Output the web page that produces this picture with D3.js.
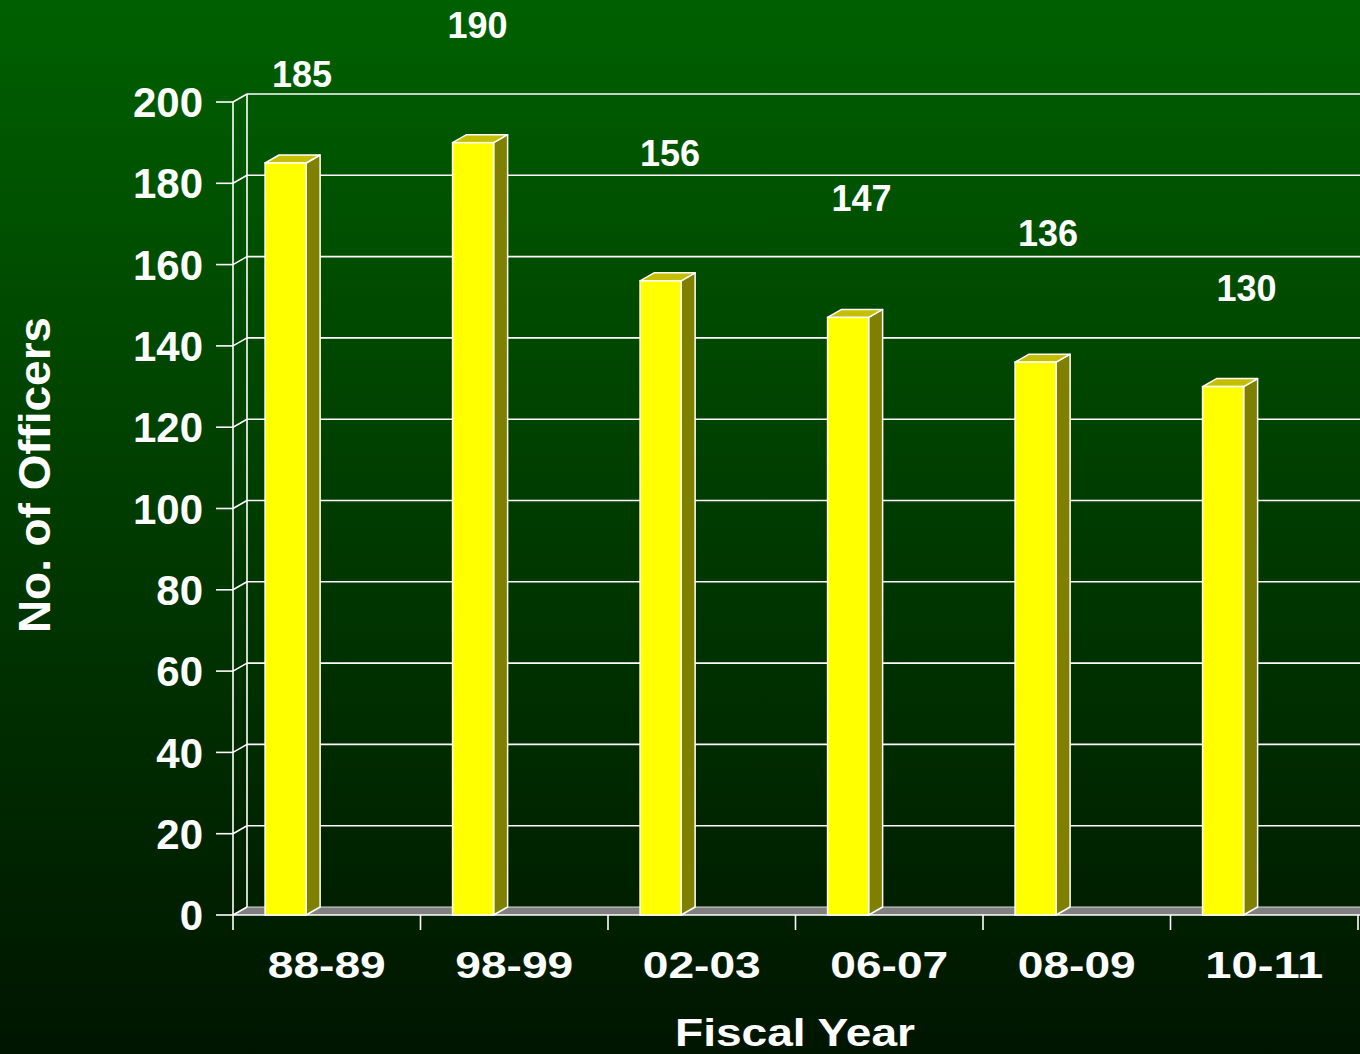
<!DOCTYPE html>
<html><head><meta charset="utf-8">
<script src="https://cdn.jsdelivr.net/npm/d3@7/dist/d3.min.js"></script>
<style>html,body{margin:0;padding:0;overflow:hidden;background:#003000}</style>
</head><body>
<svg id="chart" width="1360" height="1054"></svg>
<script>
const categories = ["88-89","98-99","02-03","06-07","08-09","10-11"];
const officers = [185,190,156,147,136,130];
const yTicks = [0,20,40,60,80,100,120,140,160,180,200];
// value-label anchors as they appear in the picture (value-axis units, fraction of category band)
const labelLevels = [207,219,187.5,176.3,167.8,154.3];
const labelShift = [0.368,0.304,0.331,0.352,0.347,0.405];
const xTitle = "Fiscal Year";
const yTitle = "No. of Officers";

const W = 1360, H = 1054;
const svg = d3.select("#chart");
const defs = svg.append("defs");
const grad = defs.append("linearGradient").attr("id","bg").attr("x1",0).attr("y1",0).attr("x2",0).attr("y2",1);
grad.append("stop").attr("offset","0%").attr("stop-color","#006000");
grad.append("stop").attr("offset","100%").attr("stop-color","#001500");
svg.append("rect").attr("width",W).attr("height",H).attr("fill","url(#bg)");

const x = d3.scaleBand().domain(categories).range([233,1358]).padding(0);
const y = d3.scaleLinear().domain([0,200]).range([915,102]);
const DX = 14, DY = -8;
const xEnd = W + 5;
const font = "'Liberation Sans', Arial, Helvetica, sans-serif";

// floor
const x0 = x.range()[0];
svg.append("path")
  .attr("d",`M${x0},${y(0)} L${x0+DX},${y(0)+DY} L${xEnd},${y(0)+DY} L${xEnd},${y(0)} Z`)
  .attr("fill","#808080").attr("stroke","none");
svg.append("line").attr("x1",x0+DX).attr("x2",xEnd).attr("y1",y(0)+DY).attr("y2",y(0)+DY)
  .attr("stroke","#d8d8d8").attr("stroke-width",1);

// back wall gridlines + side-wall diagonals
const g = svg.append("g").attr("stroke","#ffffff").attr("stroke-width",1.6).attr("fill","none");
yTicks.forEach(t => {
  if (t > 0) g.append("line").attr("x1",x0+DX).attr("x2",xEnd).attr("y1",y(t)+DY).attr("y2",y(t)+DY);
  g.append("line").attr("x1",x0).attr("x2",x0+DX).attr("y1",y(t)).attr("y2",y(t)+DY);
});
g.append("line").attr("x1",x0+DX).attr("x2",x0+DX).attr("y1",y(200)+DY).attr("y2",y(0)+DY);

// front axes
const axG = svg.append("g").attr("stroke","#ffffff").attr("stroke-width",1.6);
axG.append("line").attr("x1",x0).attr("x2",x0).attr("y1",y(200)).attr("y2",y(0)+15);
axG.append("line").attr("x1",x0).attr("x2",xEnd).attr("y1",y(0)).attr("y2",y(0));
yTicks.forEach(t => axG.append("line").attr("x1",x0-17).attr("x2",x0).attr("y1",y(t)).attr("y2",y(t)));
categories.forEach(c => {
  const xx = x(c) + x.bandwidth();
  axG.append("line").attr("x1",xx).attr("x2",xx).attr("y1",y(0)).attr("y2",y(0)+15);
});

// y tick labels
svg.append("g").selectAll("text").data(yTicks).join("text")
  .attr("x",x0-30).attr("y",d=>y(d)).attr("dy","0.36em")
  .attr("text-anchor","end").attr("fill","#fff")
  .attr("font-family",font).attr("font-weight","bold").attr("font-size",42)
  .text(d=>d);

// bars
const bw = x.bandwidth();
const barOff = 0.171, barW = 0.219;
const bars = svg.append("g").selectAll("g").data(categories.map((c,i)=>({c,v:officers[i]}))).join("g");
bars.each(function(d){
  const gg = d3.select(this);
  const l = x(d.c) + barOff*bw, r = l + barW*bw, t = y(d.v), b = y(0);
  gg.append("path").attr("d",`M${r},${b} L${r+DX},${b+DY} L${r+DX},${t+DY} L${r},${t} Z`)
    .attr("fill","#808000").attr("stroke","#fff").attr("stroke-width",1.5).attr("stroke-linejoin","round");
  gg.append("path").attr("d",`M${l},${t} L${l+DX},${t+DY} L${r+DX},${t+DY} L${r},${t} Z`)
    .attr("fill","#c4c000").attr("stroke","#fff").attr("stroke-width",1.5).attr("stroke-linejoin","round");
  gg.append("rect").attr("x",l).attr("y",t).attr("width",r-l).attr("height",b-t)
    .attr("fill","#ffff00").attr("stroke","#fff").attr("stroke-width",1.5);
});

// value labels
svg.append("g").selectAll("text").data(categories).join("text")
  .attr("x",(c,i)=>x(c)+labelShift[i]*bw).attr("y",(c,i)=>y(labelLevels[i])).attr("dy","0.36em")
  .attr("text-anchor","middle").attr("fill","#fff")
  .attr("font-family",font).attr("font-weight","bold").attr("font-size",36)
  .text((c,i)=>officers[i]);

// category labels
svg.append("g").selectAll("text").data(categories).join("text")
  .attr("x",c=>x(c)+bw/2).attr("y",978)
  .attr("text-anchor","middle").attr("fill","#fff")
  .attr("font-family",font).attr("font-weight","bold").attr("font-size",36)
  .attr("textLength",118).attr("lengthAdjust","spacingAndGlyphs")
  .text(c=>c);

// axis titles
svg.append("text").attr("x",795).attr("y",1046).attr("text-anchor","middle").attr("fill","#fff")
  .attr("font-family",font).attr("font-weight","bold").attr("font-size",38)
  .attr("textLength",240).attr("lengthAdjust","spacingAndGlyphs").text(xTitle);
svg.append("text").attr("transform","translate(50,475) rotate(-90)").attr("text-anchor","middle").attr("fill","#fff")
  .attr("font-family",font).attr("font-weight","bold").attr("font-size",44)
  .attr("textLength",316).attr("lengthAdjust","spacingAndGlyphs").text(yTitle);
</script>
</body></html>
